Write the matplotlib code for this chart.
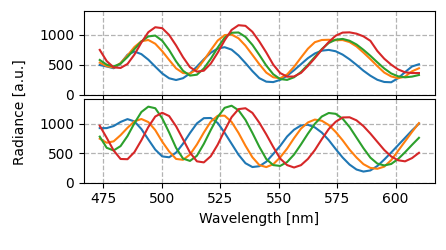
import matplotlib

matplotlib.use("Agg")
import matplotlib.pyplot as plt
import numpy as np

wavelength = np.linspace(473.5, 610, 47)

# top panel
top_blue = [495, 470, 440, 520, 667, 720, 677, 584, 467, 353, 272, 243, 273, 353, 468, 590,
            700, 771, 793, 752, 654, 527, 392, 274, 215, 208, 245, 315, 407, 508, 609, 688,
            735, 748, 725, 669, 590, 497, 399, 315, 247, 210, 205, 274, 376, 470, 507]
top_orange = [534, 475, 452, 527, 655, 797, 893, 914, 851, 727, 580, 438, 360, 350, 425, 574,
              744, 905, 996, 1005, 942, 819, 664, 508, 367, 289, 272, 336, 464, 619, 768, 877,
              914, 918, 910, 913, 879, 806, 703, 593, 477, 368, 303, 273, 300, 389, 440]
top_green = [579, 500, 470, 517, 629, 760, 890, 974, 988, 902, 745, 555, 398, 317, 332, 436,
             599, 787, 954, 1035, 1040, 966, 832, 663, 485, 340, 259, 245, 289, 378, 498, 630,
             761, 864, 919, 932, 901, 839, 749, 649, 540, 436, 353, 304, 288, 300, 327]
top_red = [748, 560, 455, 445, 512, 670, 871, 1045, 1128, 1112, 998, 823, 626, 459, 383, 399,
           518, 701, 908, 1083, 1162, 1151, 1051, 888, 704, 501, 360, 299, 302, 362, 479, 610,
           751, 880, 986, 1038, 1042, 1020, 975, 900, 730, 600, 500, 420, 372, 360, 360]

# bottom panel
bot_blue = [925, 925, 960, 1030, 1078, 1039, 909, 732, 559, 444, 429, 508, 660, 841, 1005, 1094,
            1097, 1012, 845, 659, 472, 328, 263, 277, 354, 485, 622, 782, 898, 970, 982, 937,
            849, 721, 569, 425, 305, 221, 186, 205, 280, 390, 510, 635, 760, 885, 1000]
bot_orange = [745, 676, 700, 805, 930, 1040, 1080, 1028, 891, 695, 527, 401, 386, 475, 646, 850,
              1035, 1135, 1136, 1030, 843, 625, 429, 296, 262, 310, 427, 576, 754, 916, 1021, 1070,
              1050, 978, 860, 718, 559, 425, 312, 248, 233, 270, 380, 540, 700, 860, 1010]
bot_green = [780, 590, 545, 619, 790, 1009, 1199, 1290, 1263, 1092, 850, 589, 407, 367, 455, 657,
             893, 1114, 1270, 1306, 1228, 1065, 843, 606, 399, 296, 282, 348, 475, 648, 831, 998,
             1122, 1182, 1168, 1085, 944, 764, 584, 423, 322, 290, 315, 400, 515, 640, 760]
bot_red = [965, 760, 545, 400, 396, 517, 719, 944, 1122, 1186, 1130, 956, 735, 510, 360, 342,
           447, 644, 887, 1111, 1248, 1263, 1184, 1016, 818, 605, 407, 296, 255, 295, 401, 552,
           737, 909, 1033, 1106, 1109, 1057, 959, 832, 692, 553, 443, 378, 360, 415, 505]

colors = ["tab:blue", "tab:orange", "tab:green", "tab:red"]

fig = plt.figure(figsize=(4.46, 2.5), dpi=100)
ax_top = fig.add_axes([0.188, 0.622, 0.787, 0.334])
ax_bot = fig.add_axes([0.188, 0.270, 0.787, 0.334], sharex=ax_top)

for ax, series, ymax in [
    (ax_top, [top_blue, top_orange, top_green, top_red], 1400),
    (ax_bot, [bot_blue, bot_orange, bot_green, bot_red], 1420),
]:
    for values, color in zip(series, colors):
        ax.plot(wavelength, values, color=color, lw=1.5)
    ax.set_ylim(0, ymax)
    ax.set_yticks([0, 500, 1000])
    ax.grid(True, ls="--", color="0.7", lw=0.9)
    ax.tick_params(labelsize=10)

ax_top.tick_params(labelbottom=False)
ax_bot.set_xticks([475, 500, 525, 550, 575, 600])
ax_bot.set_xlim(466.7, 616.8)
ax_bot.set_xlabel("Wavelength [nm]", fontsize=10)
fig.text(0.045, 0.55, "Radiance [a.u.]", rotation=90, va="center", ha="center", fontsize=10)

fig.savefig("out.png", dpi=100)
